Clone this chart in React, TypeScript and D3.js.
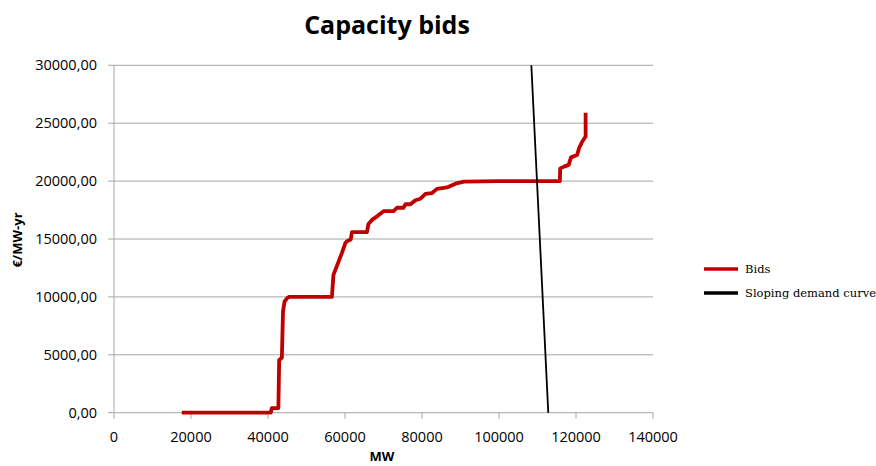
import React from "react";
import * as d3 from "d3";

const title = "Capacity bids";
const xLabel = "MW";
const yLabel = "€/MW-yr";

const xTicks = [0, 20000, 40000, 60000, 80000, 100000, 120000, 140000];
const yTicks = [0, 5000, 10000, 15000, 20000, 25000, 30000];

const bidsMW = [
  17600, 40700, 41000, 42700, 42900, 43600, 43900, 44300, 45000, 45400, 56600, 57000, 59200,
  60100, 60500, 61500, 61800, 65700, 66100, 67000, 68500, 70000, 72600, 73500, 75200, 75700,
  77000, 78300, 79600, 80900, 82600, 83900, 86500, 88700, 90900, 100000, 115800, 115900, 116900,
  118100, 118700, 120300, 120800, 121600, 122500, 122500,
];
const bidsPrice = [
  0, 0, 400, 400, 4550, 4750, 8750, 9600, 9900, 10000, 10000, 11900, 13800,
  14650, 14800, 14950, 15600, 15600, 16300, 16650, 17000, 17400, 17400, 17700, 17700, 18000,
  18000, 18350, 18480, 18900, 18970, 19330, 19450, 19780, 19950, 20000, 20000, 21100, 21250,
  21400, 22050, 22250, 22850, 23400, 23850, 25900,
];

const demandMW = [108400, 112800];
const demandPrice = [30000, 0];

const seriesNames = ["Bids", "Sloping demand curve"];
const seriesColors = ["#c00000", "#000000"];

export default function App() {
  const W = 876;
  const H = 466;
  const left = 114;
  const right = 653;
  const top = 65.3;
  const bottom = 412.7;

  const x = d3.scaleLinear().domain([0, 140000]).range([left, right]);
  const y = d3.scaleLinear().domain([0, 30000]).range([bottom, top]);

  const locale = d3.formatLocale({ decimal: ",", thousands: "", grouping: [3], currency: ["", "€"] });
  const yFmt = locale.format(".2f");

  const line = d3
    .line<[number, number]>()
    .x((d) => x(d[0]))
    .y((d) => y(d[1]));

  const bidsPts: [number, number][] = bidsMW.map((m, i) => [m, bidsPrice[i]]);
  const demandPts: [number, number][] = demandMW.map((m, i) => [m, demandPrice[i]]);

  const grid = "#a6a6a6";
  const tickFont = "'Open Sans', 'Liberation Sans', sans-serif";

  return (
    <svg
      width={W}
      height={H}
      style={{ position: "absolute", left: 0, top: 0, background: "#fff" }}
      xmlns="http://www.w3.org/2000/svg"
    >
      <rect width={W} height={H} fill="#fff" />
      {yTicks.map((t) => (
        <line key={"g" + t} x1={left - 6} x2={right} y1={y(t)} y2={y(t)} stroke={grid} strokeWidth={1} />
      ))}
      <line x1={left} x2={left} y1={top} y2={bottom} stroke={grid} strokeWidth={1} />
      {xTicks.map((t) => (
        <line key={"xt" + t} x1={x(t)} x2={x(t)} y1={bottom} y2={bottom + 6} stroke={grid} strokeWidth={1} />
      ))}
      {yTicks.map((t) => (
        <text
          key={"yl" + t}
          x={97}
          y={y(t) + 5}
          textAnchor="end"
          fontFamily={tickFont}
          fontSize={14.5}
          fill="#000"
        >
          {yFmt(t)}
        </text>
      ))}
      {xTicks.map((t) => (
        <text
          key={"xl" + t}
          x={x(t)}
          y={441.5}
          textAnchor="middle"
          fontFamily={tickFont}
          fontSize={14.5}
          fill="#000"
        >
          {String(t)}
        </text>
      ))}
      <path
        d={line(bidsPts) || ""}
        fill="none"
        stroke={seriesColors[0]}
        strokeWidth={3.8}
        strokeLinejoin="round"
        strokeLinecap="butt"
      />
      <path d={line(demandPts) || ""} fill="none" stroke={seriesColors[1]} strokeWidth={1.8} />
      <text
        x={387}
        y={34}
        textAnchor="middle"
        fontFamily={tickFont}
        fontWeight="bold"
        fontSize={25}
        fill="#000"
      >
        {title}
      </text>
      <text
        x={382}
        y={461}
        textAnchor="middle"
        fontFamily={tickFont}
        fontWeight="bold"
        fontSize={13}
        fill="#000"
      >
        {xLabel}
      </text>
      <text
        transform={`translate(22, 240) rotate(-90)`}
        textAnchor="middle"
        fontFamily={tickFont}
        fontWeight="bold"
        fontSize={13}
        fill="#000"
      >
        {yLabel}
      </text>
      {seriesNames.map((n, i) => {
        const ly = 269 + i * 24;
        return (
          <g key={n}>
            <line x1={704} x2={738} y1={ly} y2={ly} stroke={seriesColors[i]} strokeWidth={3.5} />
            <text
              x={745}
              y={ly + 4}
              fontFamily="'DejaVu Serif', 'Liberation Serif', serif"
              fontSize={11.5}
              fill="#000"
            >
              {n}
            </text>
          </g>
        );
      })}
    </svg>
  );
}
